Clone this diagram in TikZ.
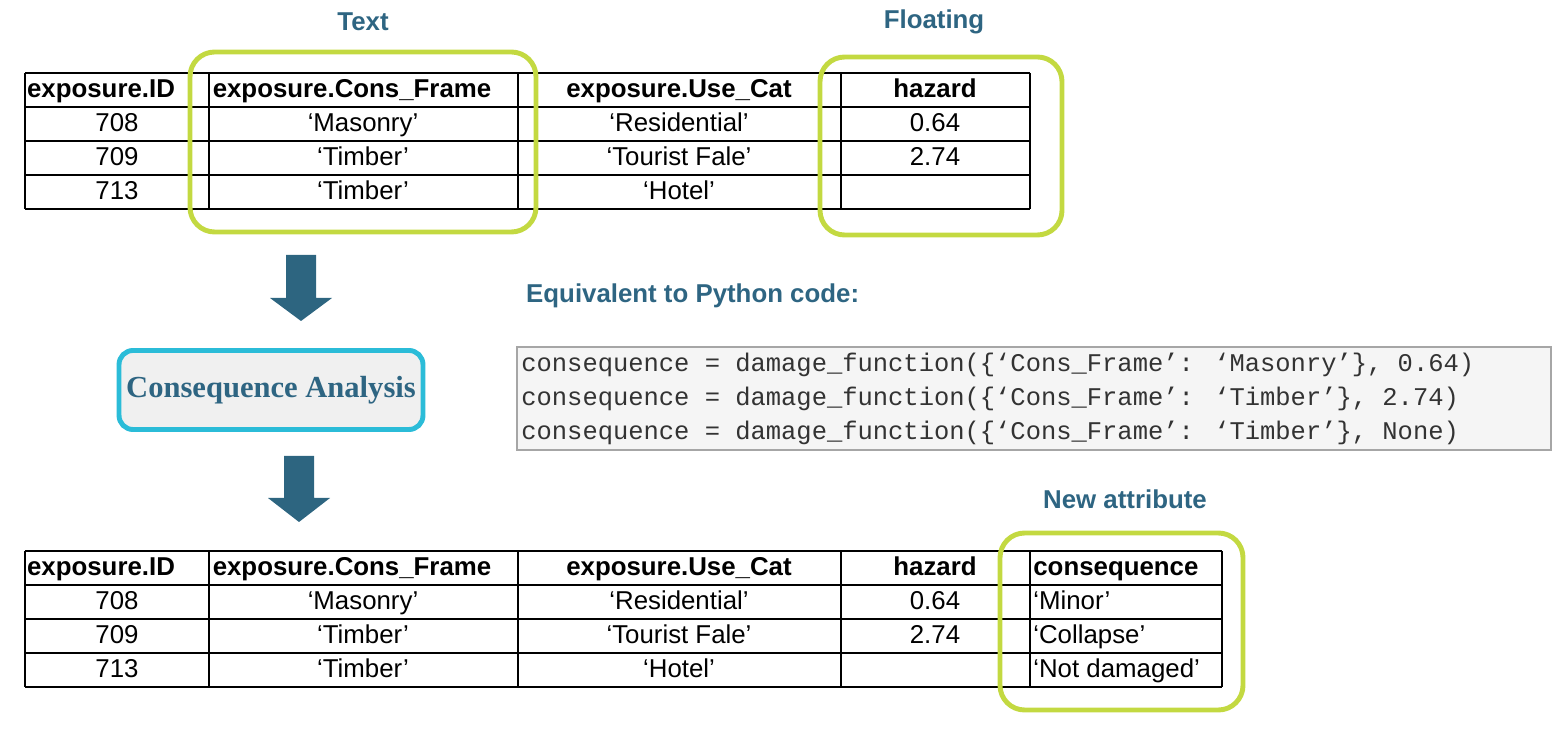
\documentclass[tikz,border=0pt]{standalone}
\usepackage{fontspec}
\setmainfont{Liberation Sans}
\newfontfamily\codefont{Liberation Mono}
\newfontfamily\serifb{Liberation Serif}
\begin{document}
\begin{tikzpicture}[x=0.02cm,y=-0.02cm,
  cell/.style={font=\fontsize{14.7}{17}\selectfont,text height=11.5pt,text depth=2.5pt,inner sep=0pt,anchor=center},
  lcell/.style={cell,anchor=west},
  hcell/.style={cell,font=\fontsize{14.7}{17}\selectfont\bfseries},
  grid/.style={draw=black,line width=0.6pt},
  hl/.style={draw=hlgreen,line width=2.8pt,rounded corners=14pt},
  lbl/.style={font=\fontsize{14.7}{17}\selectfont\bfseries,text=blu},
  blockarrow/.style={fill=arr,draw=none},
  code/.style={font=\codefont\fontsize{14.5}{16}\selectfont,anchor=west,inner sep=0pt,text height=11.5pt,text depth=2.5pt,text=black!80}]
\definecolor{hlgreen}{HTML}{C3D941}
\definecolor{blu}{HTML}{2E6582}
\definecolor{arr}{HTML}{2D6580}
\definecolor{cyanb}{HTML}{2BBCD8}
\useasboundingbox (0,0) rectangle (1568,742);
% top table
\foreach \y in {73,107,141,175,209} \draw[grid] (25,\y) -- (1030,\y);
\foreach \x in {25,209,518,841,1030} \draw[grid] (\x,73) -- (\x,209);
\node[hcell] (t11) at (101,90) {exposure.ID};
\node[hcell] (t12) at (352,90) {exposure.Cons\_Frame};
\node[hcell] (t13) at (679,90) {exposure.Use\_Cat};
\node[hcell] (t14) at (935,90) {hazard};
\node[cell] (t21) at (117,124) {708};
\node[cell] (t22) at (363,124) {‘Masonry’};
\node[cell] (t23) at (679,124) {‘Residential’};
\node[cell] (t24) at (935,124) {0.64};
\node[cell] (t31) at (117,158) {709};
\node[cell] (t32) at (363,158) {‘Timber’};
\node[cell] (t33) at (679,158) {‘Tourist Fale’};
\node[cell] (t34) at (935,158) {2.74};
\node[cell] (t41) at (117,192) {713};
\node[cell] (t42) at (363,192) {‘Timber’};
\node[cell] (t43) at (679,192) {‘Hotel’};
\draw[hl] (190,52) rectangle (536,232);
\draw[hl] (820,57) rectangle (1062,235);
\node[lbl] (ltext) at (363,22) {Text};
\node[lbl] (lfloat) at (934,22) {Floating};
% arrows
\fill[blockarrow] (286,255) -- (316,255) -- (316,298) -- (332,298) -- (301,321) -- (270,298) -- (286,298) -- cycle;
\fill[blockarrow] (284,456) -- (314,456) -- (314,498) -- (330,498) -- (299,522) -- (268,498) -- (284,498) -- cycle;
% consequence box
\node[draw=cyanb,line width=2.8pt,fill=gray!12,rounded corners=8pt,minimum width=173pt,minimum height=45pt,font=\serifb\fontsize{17.4}{19}\selectfont\bfseries,text=blu] (ca) at (271,390) {Consequence Analysis};
% code
\node[lbl,anchor=west] (eq) at (520,296) {Equivalent to Python code:};
\draw[draw=gray!70,fill=gray!8,line width=0.6pt] (517,347) rectangle (1551,450);
\node[code] (c1) at (521,364) {consequence = damage\_function(\{‘Cons\_Frame’: ‘Masonry’\}, 0.64)};
\node[code] (c2) at (521,398) {consequence = damage\_function(\{‘Cons\_Frame’: ‘Timber’\}, 2.74)};
\node[code] (c3) at (521,432) {consequence = damage\_function(\{‘Cons\_Frame’: ‘Timber’\}, None)};
% bottom table
\foreach \y in {551,585,619,653,687} \draw[grid] (25,\y) -- (1222,\y);
\foreach \x in {25,209,518,841,1030,1222} \draw[grid] (\x,551) -- (\x,687);
\node[hcell] (b11) at (101,568) {exposure.ID};
\node[hcell] (b12) at (352,568) {exposure.Cons\_Frame};
\node[hcell] (b13) at (679,568) {exposure.Use\_Cat};
\node[hcell] (b14) at (935,568) {hazard};
\node[hcell,anchor=west] (b15) at (1033,568) {consequence};
\node[cell] (b21) at (117,602) {708};
\node[cell] (b22) at (363,602) {‘Masonry’};
\node[cell] (b23) at (679,602) {‘Residential’};
\node[cell] (b24) at (935,602) {0.64};
\node[lcell] (b25) at (1033,602) {‘Minor’};
\node[cell] (b31) at (117,636) {709};
\node[cell] (b32) at (363,636) {‘Timber’};
\node[cell] (b33) at (679,636) {‘Tourist Fale’};
\node[cell] (b34) at (935,636) {2.74};
\node[lcell] (b35) at (1033,636) {‘Collapse’};
\node[cell] (b41) at (117,670) {713};
\node[cell] (b42) at (363,670) {‘Timber’};
\node[cell] (b43) at (679,670) {‘Hotel’};
\node[lcell] (b45) at (1033,670) {‘Not damaged’};
\draw[hl] (1000,533) rectangle (1243,710);
\node[lbl] (lnew) at (1125,499) {New attribute};
\end{tikzpicture}
\end{document}
